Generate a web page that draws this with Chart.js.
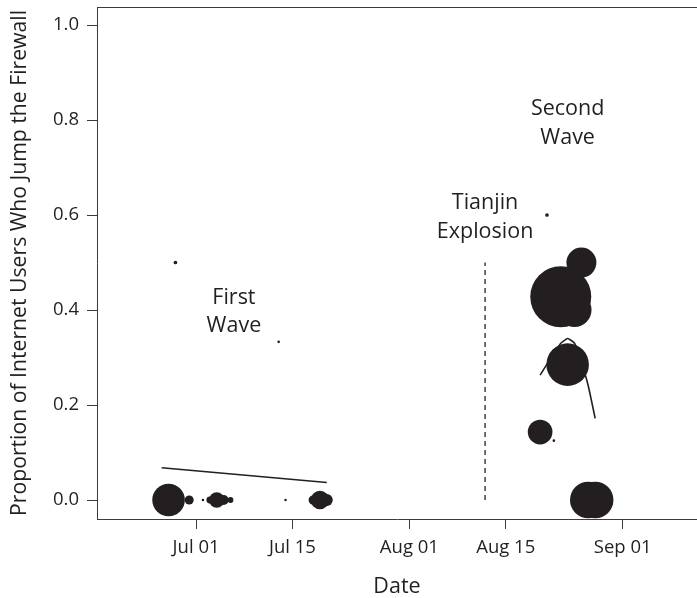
<!DOCTYPE html>
<html>
<head>
<meta charset="utf-8">
<script src="https://cdn.jsdelivr.net/npm/chart.js@4/dist/chart.umd.min.js"></script>
<style>
  html, body { margin: 0; padding: 0; background: #ffffff; overflow: hidden; }
  #wrap { width: 697px; height: 598px; position: relative; }
  canvas { display: block; }
</style>
</head>
<body>
<div id="wrap"><canvas id="chart" width="697" height="598" style="width:697px;height:598px"></canvas></div>
<script>
// Daily observations: date, share of users who jump the firewall, number of posts
const obsDates = ['2015-06-27', '2015-06-28', '2015-06-30', '2015-07-02', '2015-07-03', '2015-07-04',
  '2015-07-05', '2015-07-06', '2015-07-13', '2015-07-14', '2015-07-18', '2015-07-19', '2015-07-20',
  '2015-08-20', '2015-08-21', '2015-08-22', '2015-08-23', '2015-08-24', '2015-08-25', '2015-08-26',
  '2015-08-27', '2015-08-28'];
const obsShare = [0, 0.5, 0, 0, 0, 0, 0, 0, 0.333, 0, 0, 0, 0,
  0.143, 0.6, 0.125, 0.428, 0.285, 0.4, 0.5, 0, 0];
const obsPosts = [157, 2, 12, 1, 7, 35, 15, 5, 1, 1, 12, 51, 21,
  90, 2, 1, 550, 268, 171, 133, 198, 198];

// Linear trend across the first wave
const wave1Dates = ['2015-06-26', '2015-07-20'];
const wave1Trend = [0.068, 0.037];

// Smoothed trend across the second wave
const wave2Dates = ['2015-08-20', '2015-08-21', '2015-08-22', '2015-08-23', '2015-08-24',
  '2015-08-25', '2015-08-26', '2015-08-27', '2015-08-28'];
const wave2Trend = [0.263, 0.286, 0.308, 0.330, 0.340, 0.330, 0.290, 0.240, 0.172];

// Tianjin explosion marker
const eventDate = '2015-08-12';
const eventRange = [0, 0.5];

// Axis ticks
const xTickDates = ['2015-07-01', '2015-07-15', '2015-08-01', '2015-08-15', '2015-09-01'];
const xTickLabels = ['Jul 01', 'Jul 15', 'Aug 01', 'Aug 15', 'Sep 01'];
const yTickValues = [0, 0.2, 0.4, 0.6, 0.8, 1.0];

// Text notes: anchor date and the share at each line's baseline
const notes = [
  { lines: ['First', 'Wave'], date: '2015-07-06', at: [0.4126, 0.3543], dx: 0.5 },
  { lines: ['Tianjin', 'Explosion'], date: '2015-08-12', at: [0.612, 0.552], dx: 0 },
  { lines: ['Second', 'Wave'], date: '2015-08-24', at: [0.8105, 0.7495], dx: 0 }
];

const ORIGIN = Date.UTC(2015, 6, 1);
function dayOf(s) {
  const p = s.split('-').map(Number);
  return (Date.UTC(p[0], p[1] - 1, p[2]) - ORIGIN) / 86400000;
}

const INK = '#231f20';
const AXIS = '#3c3c3c';
const FONT = "'Open Sans', 'DejaVu Sans', sans-serif";

const bubbles = obsDates.map((d, i) => ({
  x: dayOf(d), y: obsShare[i], r: 1.3 * Math.sqrt(obsPosts[i])
}));
const wave1 = wave1Dates.map((d, i) => ({ x: dayOf(d), y: wave1Trend[i] }));
const wave2 = wave2Dates.map((d, i) => ({ x: dayOf(d), y: wave2Trend[i] }));
const eventLine = eventRange.map(v => ({ x: dayOf(eventDate), y: v }));

const notesPlugin = {
  id: 'notes',
  afterDatasetsDraw(chart) {
    const { ctx, scales: { x, y } } = chart;
    ctx.save();
    ctx.fillStyle = INK;
    ctx.font = `21.5px ${FONT}`;
    ctx.textAlign = 'center';
    ctx.textBaseline = 'alphabetic';
    notes.forEach(n => {
      const px = x.getPixelForValue(dayOf(n.date) + n.dx);
      n.lines.forEach((t, i) => ctx.fillText(t, px, y.getPixelForValue(n.at[i])));
    });
    ctx.restore();
  },
  afterDraw(chart) {
    // top frame line of the plotting region
    const { ctx, chartArea } = chart;
    ctx.save();
    ctx.strokeStyle = AXIS;
    ctx.lineWidth = 1;
    ctx.beginPath();
    ctx.moveTo(chartArea.left, Math.round(chartArea.top) + 0.5);
    ctx.lineTo(chart.width, Math.round(chartArea.top) + 0.5);
    ctx.stroke();
    ctx.restore();
  }
};

new Chart(document.getElementById('chart'), {
  type: 'bubble',
  data: {
    datasets: [
      {
        label: 'Daily share',
        data: bubbles,
        backgroundColor: INK,
        borderWidth: 0,
        hoverBorderWidth: 0,
        order: 1
      },
      {
        type: 'line',
        label: 'First wave trend',
        data: wave1,
        borderColor: INK,
        borderWidth: 1.6,
        pointRadius: 0,
        tension: 0,
        fill: false,
        order: 2
      },
      {
        type: 'line',
        label: 'Second wave trend',
        data: wave2,
        borderColor: INK,
        borderWidth: 1.6,
        pointRadius: 0,
        tension: 0.15,
        fill: false,
        order: 2
      },
      {
        type: 'line',
        label: 'Tianjin explosion',
        data: eventLine,
        borderColor: INK,
        borderWidth: 1.3,
        borderDash: [5, 4],
        pointRadius: 0,
        fill: false,
        order: 2
      }
    ]
  },
  options: {
    responsive: false,
    animation: false,
    events: [],
    devicePixelRatio: 1,
    layout: { autoPadding: false, padding: { top: 7, right: 0, bottom: 0, left: 0 } },
    plugins: {
      legend: { display: false },
      tooltip: { enabled: false }
    },
    scales: {
      x: {
        type: 'linear',
        min: -14.4,
        max: 72.8,
        afterBuildTicks: s => { s.ticks = xTickDates.map(d => ({ value: dayOf(d) })); },
        afterFit: s => { s.height = 79; s.paddingLeft = 0; s.paddingRight = 0; },
        grid: { drawOnChartArea: false, drawTicks: true, tickLength: 10, tickColor: AXIS, lineWidth: 1 },
        border: { display: true, color: AXIS, width: 1 },
        ticks: {
          autoSkip: false, maxRotation: 0, color: INK, padding: 8,
          font: { family: FONT, size: 18.5 },
          callback: (v, i) => xTickLabels[i]
        },
        title: {
          display: true, text: 'Date', color: INK,
          font: { family: FONT, size: 21.5 },
          padding: { top: 0, bottom: -2 }
        }
      },
      y: {
        type: 'linear',
        min: -0.04,
        max: 1.038,
        afterBuildTicks: s => { s.ticks = yTickValues.map(v => ({ value: v })); },
        afterFit: s => { s.width = 97; s.paddingTop = 0; s.paddingBottom = 0; },
        grid: { drawOnChartArea: false, drawTicks: true, tickLength: 10, tickColor: AXIS, lineWidth: 1 },
        border: { display: true, color: AXIS, width: 1 },
        ticks: {
          color: INK, padding: 8,
          font: { family: FONT, size: 18.5 },
          callback: v => v.toFixed(1)
        },
        title: {
          display: true, text: 'Proportion of Internet Users Who Jump the Firewall', color: INK,
          font: { family: FONT, size: 21.2 },
          padding: { top: 7, bottom: 0 }
        }
      }
    }
  },
  plugins: [notesPlugin]
});
</script>
</body>
</html>
